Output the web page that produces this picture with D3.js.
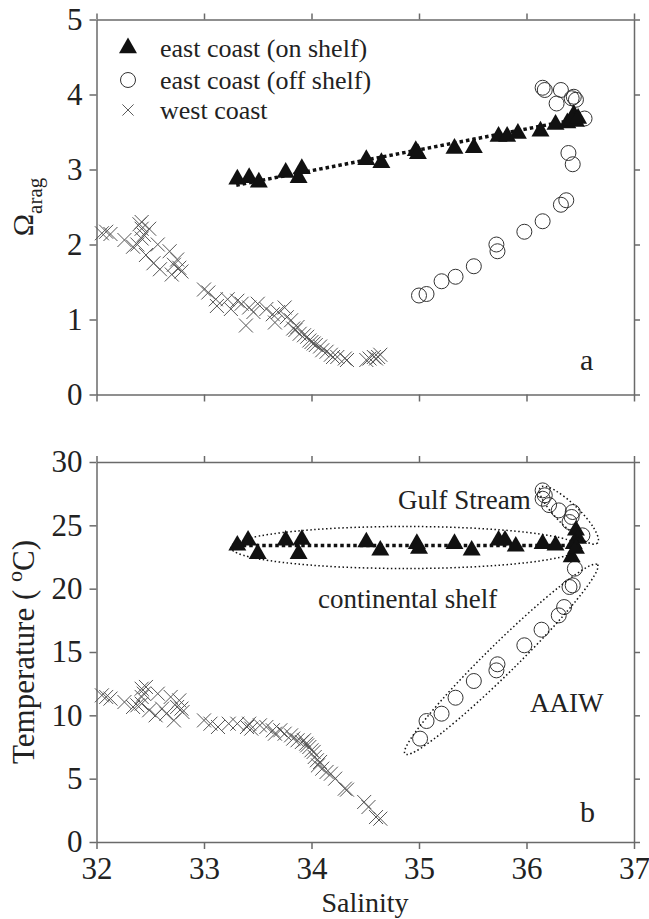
<!DOCTYPE html>
<html>
<head>
<meta charset="utf-8">
<script src="https://cdn.jsdelivr.net/npm/d3@7"></script>
<style>
  body { margin: 0; background: #fff; }
</style>
</head>
<body>
<div id="chart"></div>
<script>
(function() {
"use strict"

var width = 649, height = 919;
var serif = "'Liberation Serif', 'Times New Roman', Times, 'DejaVu Serif', serif";

// panel a: salinity vs aragonite saturation
var shelfA = [[33.31,2.87],[33.42,2.89],[33.51,2.83],[33.76,2.96],[33.88,2.89],[33.91,3.01],
    [34.51,3.13],[34.65,3.09],[34.97,3.25],[34.99,3.21],[35.33,3.28],[35.51,3.29],[35.74,3.44],
    [35.82,3.44],[35.92,3.48],[36.13,3.51],[36.27,3.60],[36.38,3.62],[36.44,3.73],[36.46,3.64],
    [36.42,3.66],[36.48,3.68]];
var offShelfA = [[35.00,1.32],[35.07,1.34],[35.21,1.51],[35.34,1.57],[35.51,1.71],[35.72,2.00],
    [35.73,1.91],[35.98,2.17],[36.15,2.31],[36.32,2.53],[36.37,2.59],[36.39,3.22],[36.43,3.07],
    [36.15,4.09],[36.17,4.06],[36.32,4.06],[36.28,3.88],[36.42,3.95],[36.44,3.97],[36.46,3.93],
    [36.54,3.68]];
var westA = [[32.05,2.15],[32.09,2.17],[32.13,2.14],[32.26,2.06],[32.34,1.97],[32.38,2.00],
    [32.42,2.30],[32.42,2.21],[32.44,2.13],[32.42,2.08],[32.40,2.27],[32.49,2.21],[32.46,1.86],
    [32.57,2.00],[32.53,1.75],[32.59,1.67],[32.68,1.91],[32.70,1.60],[32.75,1.80],[32.77,1.69],
    [32.79,1.64],[32.72,1.73],[33.00,1.40],[33.04,1.36],[33.11,1.27],[33.12,1.18],[33.22,1.27],
    [33.25,1.14],[33.31,1.25],[33.35,1.21],[33.39,0.92],[33.42,1.16],[33.46,1.10],[33.50,1.21],
    [33.58,1.14],[33.64,1.07],[33.66,0.96],[33.69,1.10],[33.75,1.16],[33.77,1.03],[33.81,0.99],
    [33.83,0.88],[33.85,0.86],[33.87,0.90],[33.89,0.81],[33.93,0.79],[33.96,0.77],[33.98,0.72],
    [34.00,0.70],[34.02,0.68],[34.04,0.66],[34.08,0.64],[34.10,0.59],[34.14,0.57],[34.18,0.53],
    [34.20,0.50],[34.24,0.50],[34.31,0.48],[34.33,0.46],[34.51,0.46],[34.54,0.48],[34.58,0.50],
    [34.60,0.48],[34.64,0.53],[34.62,0.50]];
var trendA = [[33.3,2.79],[36.5,3.68]];

// panel b: salinity vs temperature
var shelfB = [[33.31,23.42],[33.41,23.82],[33.50,22.76],[33.76,23.82],[33.88,22.76],[33.91,23.87],
    [34.51,23.68],[34.64,23.03],[34.98,23.55],[35.00,23.16],[35.33,23.55],[35.49,23.03],[35.74,23.82],
    [35.80,23.82],[35.90,23.34],[36.15,23.55],[36.27,23.42],[36.42,22.50],[36.46,24.60],[36.48,23.95],
    [36.44,23.55],[36.46,23.16]];
var offShelfB = [[35.01,8.16],[35.07,9.55],[35.21,10.13],[35.34,11.39],[35.51,12.71],[35.72,13.55],
    [35.73,14.03],[35.98,15.53],[36.14,16.76],[36.30,17.89],[36.35,18.55],[36.40,20.13],[36.43,20.26],
    [36.45,21.58],[36.15,27.76],[36.17,27.37],[36.15,27.10],[36.21,26.60],[36.30,26.18],[36.43,26.05],
    [36.42,25.66],[36.40,25.26],[36.52,24.21]];
var westB = [[32.05,11.58],[32.09,11.45],[32.13,11.32],[32.26,11.05],[32.34,10.66],[32.38,10.79],
    [32.42,10.92],[32.42,11.45],[32.44,11.71],[32.42,12.10],[32.46,12.24],[32.49,10.40],[32.55,10.00],
    [32.57,11.71],[32.61,10.53],[32.65,10.13],[32.69,11.45],[32.72,9.60],[32.75,10.66],[32.77,11.18],
    [32.79,10.53],[32.80,10.26],[33.00,9.60],[33.06,9.34],[33.13,9.08],[33.23,9.34],[33.31,9.34],
    [33.40,9.08],[33.44,8.95],[33.42,9.34],[33.52,9.21],[33.58,9.08],[33.64,8.82],[33.66,8.55],
    [33.71,8.82],[33.75,8.55],[33.81,8.42],[33.83,8.16],[33.87,8.03],[33.91,7.89],[33.93,8.03],
    [33.95,7.76],[33.96,7.63],[33.98,7.50],[34.00,7.24],[34.02,7.11],[34.03,6.71],[34.05,6.45],
    [34.06,6.05],[34.08,6.32],[34.10,5.79],[34.14,5.53],[34.18,5.39],[34.22,5.00],[34.31,4.21],
    [34.33,4.13],[34.49,3.16],[34.53,2.76],[34.60,1.97],[34.64,1.84]];
var trendB = [[33.3,23.4],[36.5,23.4]];

// water mass groupings: tip-to-tip along the long axis, half width in px
var groups = [
    {name: "continental shelf", from: [33.25,23.25], to: [36.50,23.25], half: 21, label: [318,608]},
    {name: "Gulf Stream", from: [36.13,28.0], to: [36.66,23.6], half: 11, label: [398,509]},
    {name: "AAIW", from: [34.87,6.95], to: [36.66,21.9], half: 15, label: [530,712]}
];

var legendNames = ["east coast (on shelf)", "east coast (off shelf)", "west coast"];
var salTicks = [32,33,34,35,36,37];
var omegaTicks = [0,1,2,3,4,5];
var tempTicks = [0,5,10,15,20,25,30];

var svg = d3.select("#chart").append("svg")
    .attr("width", width)
    .attr("height", height)
    .attr("font-family", serif)
    .style("font-family", serif);

var x = d3.scaleLinear().domain([32,37]).range([96.5,634]);
var yA = d3.scaleLinear().domain([0,5]).range([394.5,19.5]);
var yB = d3.scaleLinear().domain([0,30]).range([842,462]);

var axisColor = "#6a6a6a";
var textColor = "#222";
var tri = d3.symbol().type(d3.symbolTriangle).size(140);
var cross = "M-7,-7L7,7M-7,7L7,-7";
var fmt = d3.format("d");

function label(sel, size) {
    return sel.attr("font-family", serif).style("font-family", serif)
        .style("font-size", size + "px").attr("fill", textColor);
}

function frame(y, ticks, showX) {
    var g = svg.append("g");
    var y0 = y.range()[0], y1 = y.range()[1];
    g.append("g").attr("transform","translate(96.5,0)")
        .call(d3.axisLeft(y).tickValues(ticks).tickSize(7).tickSizeOuter(0).tickPadding(7).tickFormat(fmt));
    g.append("g").attr("transform","translate(634,0)")
        .call(d3.axisRight(y).tickValues(ticks).tickSize(6).tickSizeOuter(0).tickFormat(""));
    g.append("g").attr("transform","translate(0,"+y0+")")
        .call(d3.axisBottom(x).tickValues(salTicks).tickSize(7).tickSizeOuter(0).tickPadding(8)
            .tickFormat(showX ? fmt : ""));
    g.append("g").attr("transform","translate(0,"+y1+")")
        .call(d3.axisTop(x).tickValues(salTicks).tickSize(6).tickSizeOuter(0).tickFormat(""));
    g.selectAll("g").attr("font-family", serif).attr("font-size", 31);
    g.selectAll(".domain, .tick line").attr("stroke", axisColor).attr("stroke-width", 1.5);
    label(g.selectAll(".tick text"), 31);
    return g;
}

function drawPanel(y, shelf, off, west, trend) {
    var g = svg.append("g");
    g.selectAll(".west").data(west).enter().append("path")
        .attr("transform", function(d){ return "translate("+x(d[0])+","+y(d[1])+")"; })
        .attr("d", cross)
        .attr("stroke","#555").attr("stroke-width",1).attr("fill","none");
    g.selectAll(".off").data(off).enter().append("circle")
        .attr("cx", function(d){ return x(d[0]); })
        .attr("cy", function(d){ return y(d[1]); })
        .attr("r", 7.5)
        .attr("fill","none").attr("stroke","#333").attr("stroke-width",1);
    g.append("path").datum(trend)
        .attr("d", d3.line().x(function(d){ return x(d[0]); }).y(function(d){ return y(d[1]); }))
        .attr("stroke","#111").attr("stroke-width",3.5).attr("stroke-dasharray","3.5,3")
        .attr("fill","none");
    g.selectAll(".shelf").data(shelf).enter().append("path")
        .attr("transform", function(d){ return "translate("+x(d[0])+","+y(d[1])+")"; })
        .attr("d", tri).attr("fill","#111");
    return g;
}

frame(yA, omegaTicks, false);
frame(yB, tempTicks, true);
drawPanel(yA, shelfA, offShelfA, westA, trendA);
drawPanel(yB, shelfB, offShelfB, westB, trendB);

// dotted ellipses around the water masses
groups.forEach(function(gr) {
    var x1 = x(gr.from[0]), y1 = yB(gr.from[1]), x2 = x(gr.to[0]), y2 = yB(gr.to[1]);
    var cx = (x1+x2)/2, cy = (y1+y2)/2;
    var rx = Math.sqrt((x2-x1)*(x2-x1)+(y2-y1)*(y2-y1))/2;
    var ang = Math.atan2(y2-y1, x2-x1)*180/Math.PI;
    svg.append("ellipse")
        .attr("transform","translate("+cx+","+cy+") rotate("+ang+")")
        .attr("rx", rx).attr("ry", gr.half)
        .attr("fill","none").attr("stroke","#111").attr("stroke-width",1.5)
        .attr("stroke-dasharray","1.5,2.5");
    label(svg.append("text"), 27).attr("x", gr.label[0]).attr("y", gr.label[1]).text(gr.name);
});

// legend
var legY = [48, 80, 110];
var leg = svg.append("g");
leg.append("path").attr("transform","translate(128,"+legY[0]+")").attr("d", tri).attr("fill","#111");
leg.append("circle").attr("cx",128).attr("cy",legY[1]).attr("r",7.5)
    .attr("fill","none").attr("stroke","#333").attr("stroke-width",1);
leg.append("path").attr("transform","translate(128,"+legY[2]+") scale(0.8)").attr("d", cross)
    .attr("stroke","#555").attr("stroke-width",1.2);
label(leg.selectAll("text").data(legendNames).enter().append("text"), 26)
    .attr("x",160).attr("y", function(d,i){ return legY[i]+9; })
    .text(function(d){ return d; });

// panel letters
label(svg.append("text"), 30).attr("x",580).attr("y",370).text("a");
label(svg.append("text"), 30).attr("x",580).attr("y",822).text("b");

// axis titles
label(svg.append("text"), 28).attr("x",365).attr("y",912).attr("text-anchor","middle").text("Salinity");

var tA = label(svg.append("text"), 30).attr("transform","translate(33,207) rotate(-90)")
    .attr("text-anchor","middle");
tA.append("tspan").text("\u03A9");
tA.append("tspan").attr("dy",9).style("font-size","21px").text("arag");

var tB = label(svg.append("text"), 31).attr("transform","translate(34,652) rotate(-90)")
    .attr("text-anchor","middle");
tB.append("tspan").text("Temperature ( ");
tB.append("tspan").attr("dy",-12).style("font-size","22px").text("o");
tB.append("tspan").attr("dy",12).text("C)");
})();
</script>
</body>
</html>
